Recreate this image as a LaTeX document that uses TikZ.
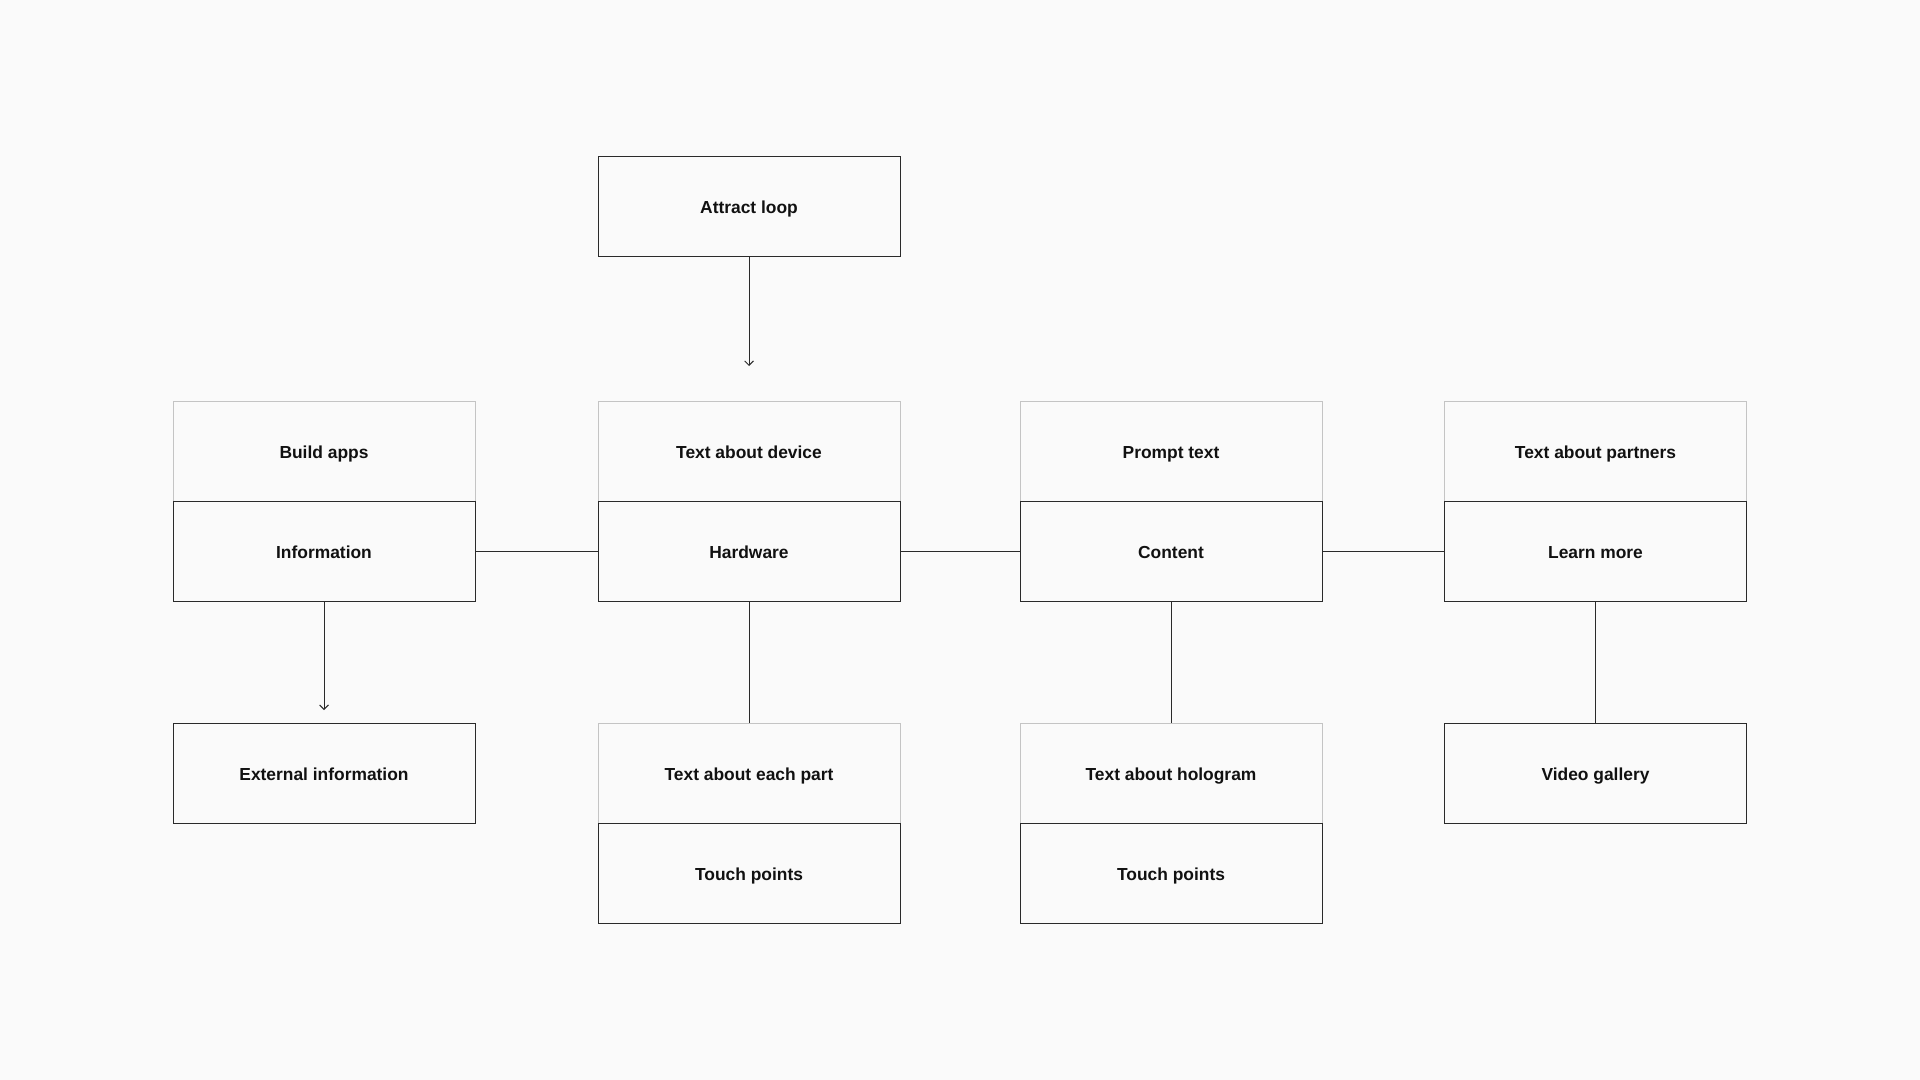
\documentclass[tikz,border=0pt]{standalone}
\usepackage{fontspec}
\setmainfont{Liberation Sans}
\usetikzlibrary{arrows.meta}
\definecolor{bg}{HTML}{FAFAFA}
\definecolor{darkline}{HTML}{2A2A2A}
\definecolor{lightline}{HTML}{C4C4C4}
\definecolor{txt}{HTML}{111111}
\tikzset{
  box/.style={draw=darkline, line width=0.5pt, rectangle, minimum width=151pt, minimum height=50pt,
    inner sep=0pt, outer sep=0pt, font=\fontsize{8.7pt}{10pt}\selectfont\bfseries, text=txt,
    text height=0.716em, text depth=0pt},
  lightbox/.style={box, draw=lightline},
  conn/.style={draw=darkline, line width=0.5pt},
  arr/.style={conn, -{Straight Barb[length=2.2pt,width=4.4pt,line width=0.5pt]}}
}
\begin{document}
\begin{tikzpicture}[x=0.5pt,y=-0.5pt]
\fill[bg] (0,0) rectangle (1920,1080);
\useasboundingbox (0,0) rectangle (1920,1080);
% light upper boxes
\node[lightbox] (buildapps) at (324,451) {Build apps};
\node[lightbox] (device) at (749,451) {Text about device};
\node[lightbox] (prompt) at (1171,451) {Prompt text};
\node[lightbox] (partners) at (1595.5,451) {Text about partners};
\node[lightbox] (eachpart) at (749,773) {Text about each part};
\node[lightbox] (hologram) at (1171,773) {Text about hologram};
% dark boxes
\node[box] (attract) at (749,206.5) {Attract loop};
\node[box] (info) at (324,551) {Information};
\node[box] (hardware) at (749,551) {Hardware};
\node[box] (content) at (1171,551) {Content};
\node[box] (learnmore) at (1595.5,551) {Learn more};
\node[box] (external) at (324,773) {External information};
\node[box] (touch1) at (749,873) {Touch points};
\node[box] (touch2) at (1171,873) {Touch points};
\node[box] (video) at (1595.5,773) {Video gallery};
% coordinates for arrow ends
\coordinate (attractend) at (749,366);
\coordinate (infoend) at (324,710);
% connectors
\draw[arr] (attract.south) -- (attractend);
\draw[arr] (info.south) -- (infoend);
\draw[conn] (info.east) -- (hardware.west);
\draw[conn] (hardware.east) -- (content.west);
\draw[conn] (content.east) -- (learnmore.west);
\draw[conn] (hardware.south) -- (eachpart.north);
\draw[conn] (content.south) -- (hologram.north);
\draw[conn] (learnmore.south) -- (video.north);
\end{tikzpicture}
\end{document}
